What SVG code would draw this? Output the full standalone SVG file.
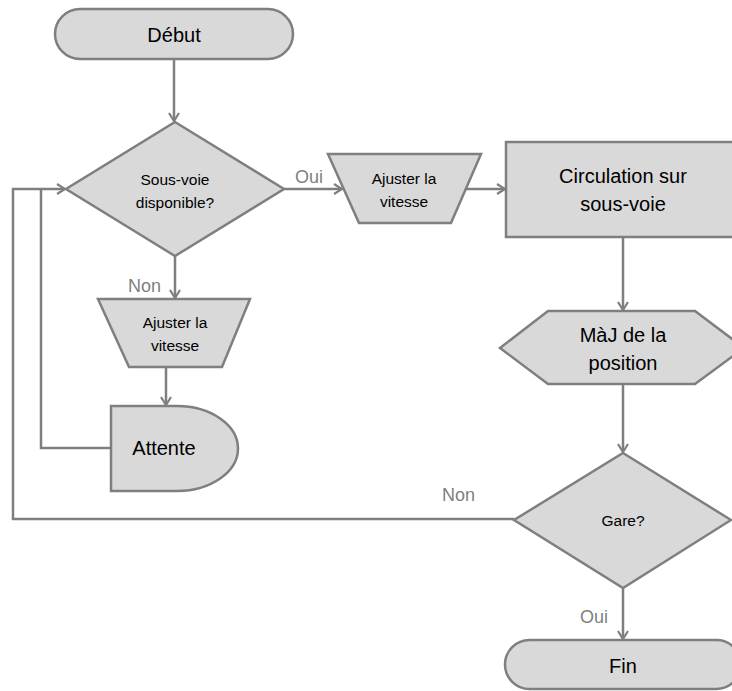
<svg xmlns="http://www.w3.org/2000/svg" width="732" height="691" viewBox="0 0 732 691">
<style>
.shape{fill:#d9d9d9;stroke:#7f7f7f;stroke-width:2.5;stroke-linejoin:miter}
.conn{fill:none;stroke:#7f7f7f;stroke-width:2.5}
.t{font-family:"Liberation Sans",Arial,sans-serif;fill:#000;text-anchor:middle}
.big{font-size:20px}
.small{font-size:15.5px}
.lbl{font-family:"Liberation Sans",Arial,sans-serif;fill:#7f7f7f;font-size:18px}
</style>
<defs>
<marker id="arr" markerWidth="12" markerHeight="12" refX="10" refY="6" orient="auto" markerUnits="userSpaceOnUse">
<path d="M2,1 L10,6 L2,11" fill="none" stroke="#7f7f7f" stroke-width="2.2"/>
</marker>
</defs>
<rect width="732" height="691" fill="#ffffff"/>
<g id="connectors">
<line class="conn" x1="174" y1="59" x2="174" y2="121" marker-end="url(#arr)"/>
<line class="conn" x1="284" y1="189" x2="342" y2="189" marker-end="url(#arr)"/>
<line class="conn" x1="466" y1="189" x2="505" y2="189" marker-end="url(#arr)"/>
<line class="conn" x1="175" y1="256" x2="175" y2="298" marker-end="url(#arr)"/>
<line class="conn" x1="166" y1="367" x2="166" y2="405" marker-end="url(#arr)"/>
<polyline class="conn" points="111,448 41,448 41,189"/>
<polyline class="conn" points="514,519 13,519 13,189 65,189" marker-end="url(#arr)"/>
<line class="conn" x1="623" y1="237" x2="623" y2="310" marker-end="url(#arr)"/>
<line class="conn" x1="623" y1="384" x2="623" y2="452" marker-end="url(#arr)"/>
<line class="conn" x1="623" y1="588" x2="623" y2="639" marker-end="url(#arr)"/>
<text class="lbl" x="295" y="183">Oui</text>
<text class="lbl" x="128" y="292">Non</text>
<text class="lbl" x="442" y="501">Non</text>
<text class="lbl" x="580" y="623">Oui</text>
</g>
<g id="debut">
<rect class="shape" x="55" y="9" width="238" height="50" rx="25" ry="25"/>
<text class="t big" x="174" y="42">Début</text>
</g>
<g id="sousvoie">
<polygon class="shape" points="175,122 284,189 175,256 66,189"/>
<text class="t small" x="175" y="185">Sous-voie</text>
<text class="t small" x="175" y="208">disponible?</text>
</g>
<g id="ajuster1">
<polygon class="shape" points="328,154 481,154 451,223 359,223"/>
<text class="t small" x="404" y="184">Ajuster la</text>
<text class="t small" x="404" y="207">vitesse</text>
</g>
<g id="circulation">
<rect class="shape" x="506" y="142" width="236" height="95"/>
<text class="t big" x="623" y="183">Circulation sur</text>
<text class="t big" x="623" y="211">sous-voie</text>
</g>
<g id="ajuster2">
<polygon class="shape" points="98,299 250,299 222,367 129,367"/>
<text class="t small" x="175" y="328">Ajuster la</text>
<text class="t small" x="175" y="351">vitesse</text>
</g>
<g id="attente">
<path class="shape" d="M111,406 L177,406 A61,42.5 0 0 1 177,491 L111,491 Z"/>
<text class="t big" x="164" y="455">Attente</text>
</g>
<g id="maj">
<polygon class="shape" points="500,348 548,311 695,311 744,348 695,384 548,384"/>
<text class="t big" x="623" y="342">MàJ de la</text>
<text class="t big" x="623" y="370">position</text>
</g>
<g id="gare">
<polygon class="shape" points="623,453 731,520 623,588 514,520"/>
<text class="t small" x="623" y="526">Gare?</text>
</g>
<g id="fin">
<rect class="shape" x="505" y="640" width="236" height="49" rx="24.5" ry="24.5"/>
<text class="t big" x="623" y="673">Fin</text>
</g>
</svg>
